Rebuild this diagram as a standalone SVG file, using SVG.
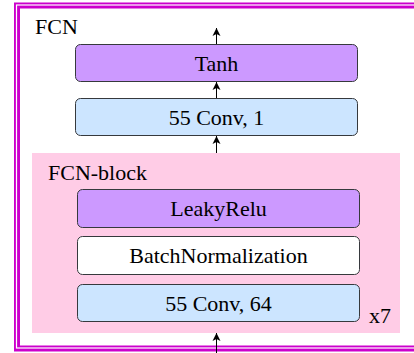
<svg xmlns="http://www.w3.org/2000/svg" width="414" height="353" viewBox="0 0 414 353">
<style>
.box{stroke:#36393d;stroke-width:1}
.c{text-anchor:middle;dominant-baseline:central}
.conn{stroke:#000;stroke-width:1;fill:none}
</style>
<defs>
<marker id="ah" viewBox="0 0 8 10" refX="8" refY="5" markerWidth="8" markerHeight="10" markerUnits="userSpaceOnUse" orient="auto">
<path d="M0,1 L8,5 L0,9 L2,5 Z" fill="#000"/>
</marker>
</defs>
<rect width="414" height="353" fill="#fff"/>
<g font-family="Liberation Serif, DejaVu Serif, serif" font-size="22" fill="#000">
<g id="frame">
<rect x="17" y="5.5" width="420" height="343" fill="none" stroke="#CC00CC" stroke-width="6"/>
<rect x="16.5" y="5" width="420" height="343" fill="none" stroke="#FFFFFF" stroke-width="1.2"/>
<text x="35" y="34">FCN</text>
</g>
<g id="fcn-block">
<rect x="32" y="153" width="368" height="180" fill="#FFCCE6"/>
<text x="48" y="180">FCN-block</text>
<text x="369" y="323">x7</text>
</g>
<g id="tanh">
<rect class="box" x="75.5" y="44.5" width="282" height="37" rx="5" fill="#CC99FF"/>
<text class="c" x="216.5" y="63">Tanh</text>
</g>
<g id="conv1">
<rect class="box" x="75.5" y="98.5" width="282" height="37" rx="5" fill="#CCE5FF"/>
<text class="c" x="216.5" y="117">55 Conv, 1</text>
</g>
<g id="leakyrelu">
<rect class="box" x="77.5" y="189.5" width="282" height="38" rx="5" fill="#CC99FF"/>
<text class="c" x="218.5" y="208.5">LeakyRelu</text>
</g>
<g id="batchnorm">
<rect class="box" x="77.5" y="236.5" width="282" height="38" rx="5" fill="#FFFFFF"/>
<text class="c" x="218.5" y="255.5">BatchNormalization</text>
</g>
<g id="conv64">
<rect class="box" x="77.5" y="284.5" width="282" height="37" rx="5" fill="#CCE5FF"/>
<text class="c" x="218.5" y="303">55 Conv, 64</text>
</g>
</g>
<g id="connectors">
<line class="conn" x1="216.5" y1="44" x2="216.5" y2="28" marker-end="url(#ah)"/>
<line class="conn" x1="216.5" y1="98" x2="216.5" y2="82" marker-end="url(#ah)"/>
<line class="conn" x1="216.5" y1="153" x2="216.5" y2="136" marker-end="url(#ah)"/>
<line class="conn" x1="216.5" y1="353" x2="216.5" y2="333" marker-end="url(#ah)"/>
</g>
</svg>
